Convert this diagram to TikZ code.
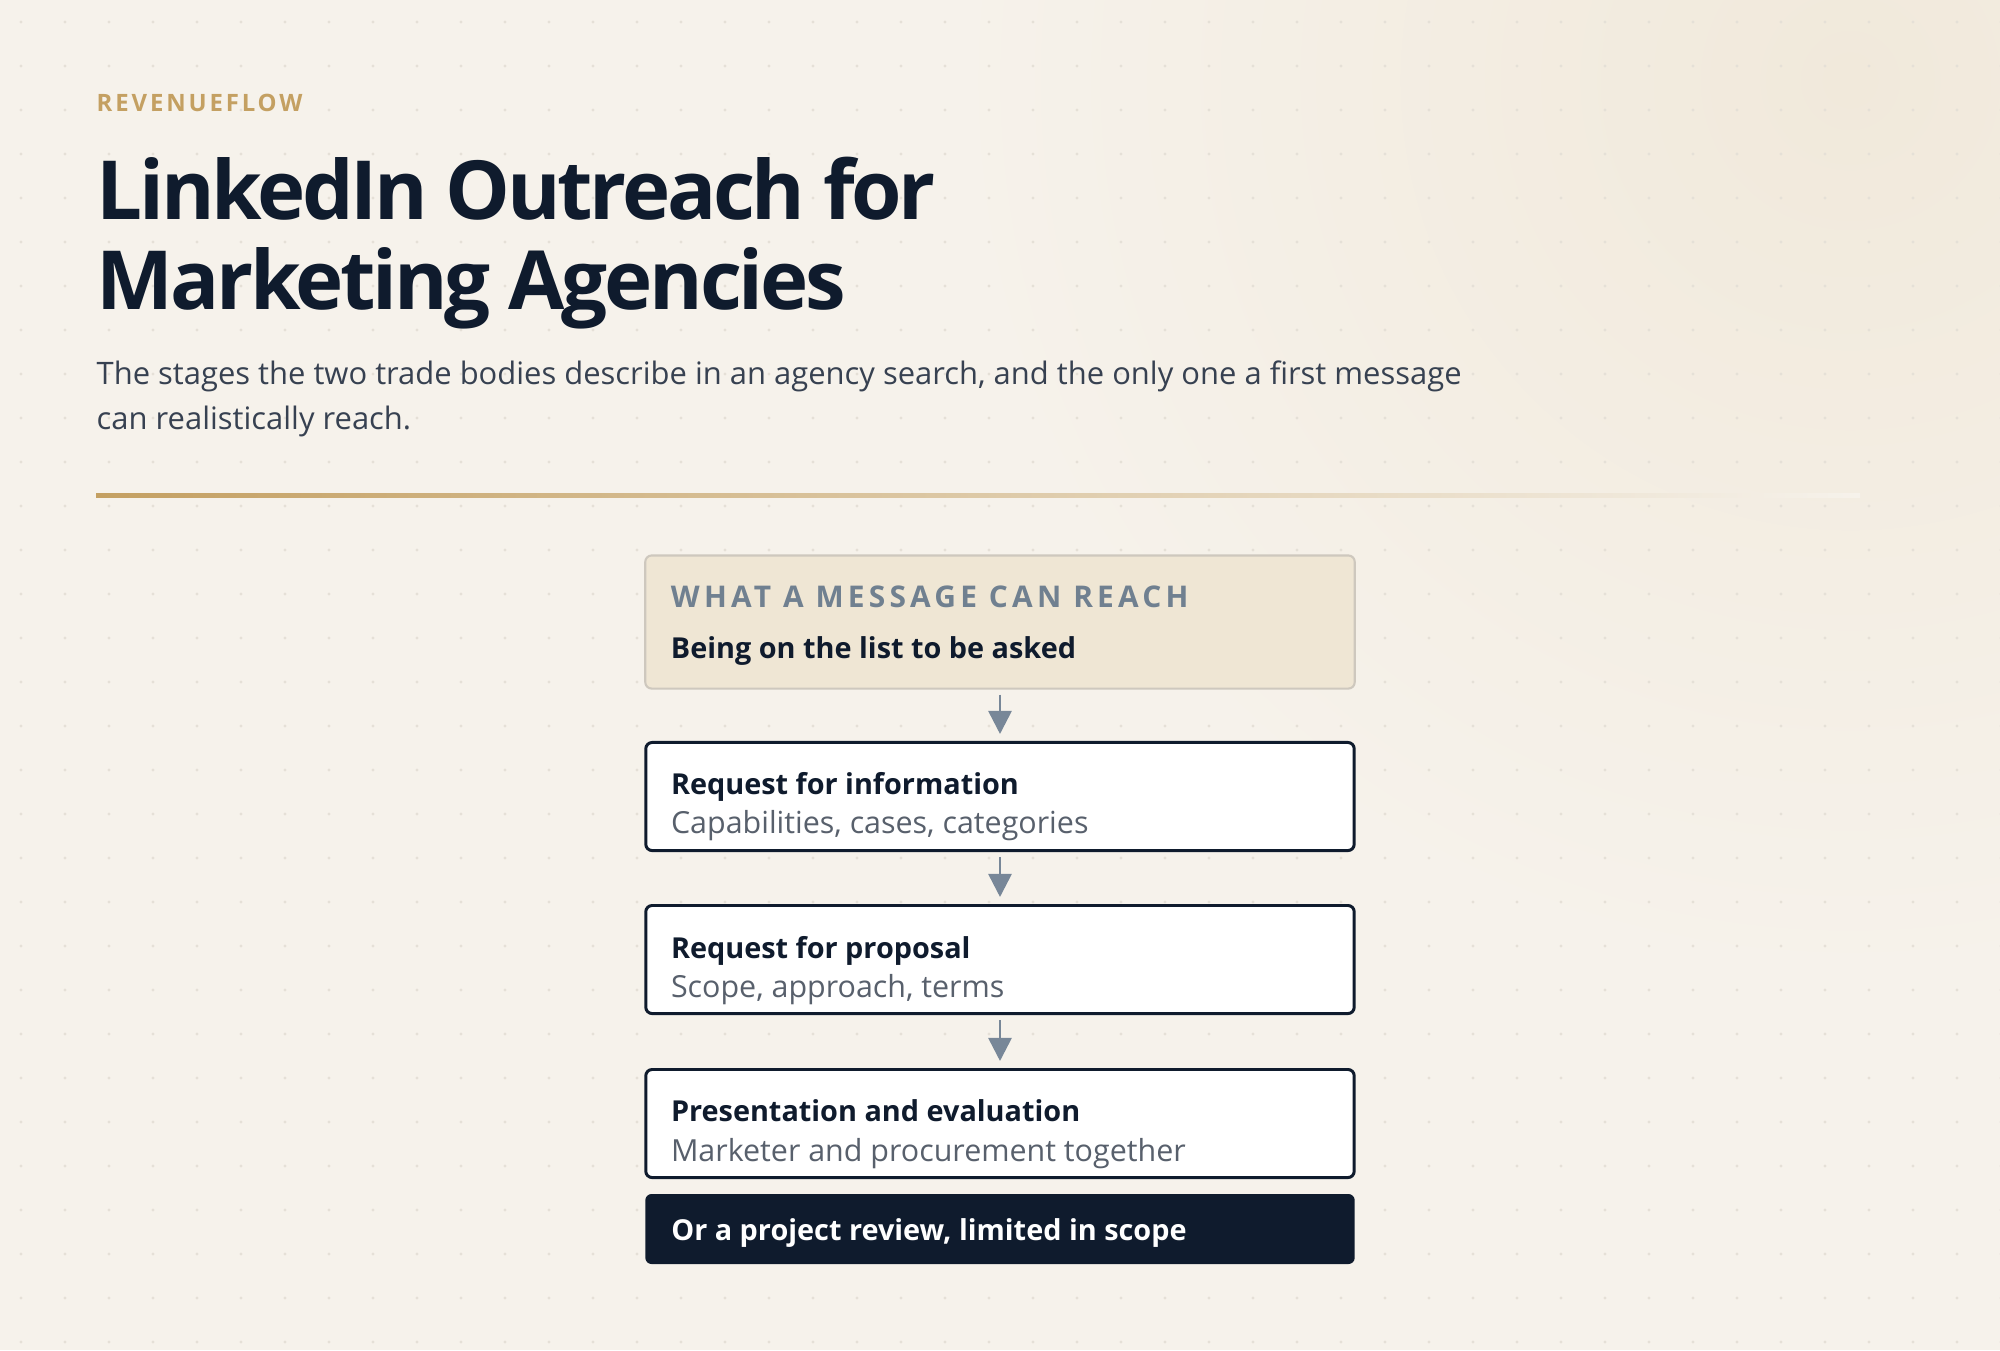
\documentclass[tikz,border=0pt]{standalone}
\usepackage{fontspec}
\setmainfont{Open Sans}
\usetikzlibrary{arrows.meta,calc}
\definecolor{pagebg}{RGB}{246,242,235}
\definecolor{glow}{RGB}{241,233,219}
\definecolor{dotc}{RGB}{229,224,215}
\definecolor{navy}{RGB}{15,27,45}
\definecolor{gold}{RGB}{196,160,98}
\definecolor{slate}{RGB}{55,65,81}
\definecolor{kickgray}{RGB}{112,128,144}
\definecolor{subgray}{RGB}{88,96,108}
\definecolor{sand}{RGB}{239,230,212}
\definecolor{sandline}{RGB}{206,200,190}
\definecolor{arrowgray}{RGB}{120,135,152}
\tikzset{
  txt/.style={inner sep=0pt,anchor=base west},
  brand/.style={txt,text=gold,font=\fontsize{6.8}{8}\selectfont\bfseries\addfontfeatures{LetterSpace=12}},
  headline/.style={txt,text=navy,font=\fontsize{23.2}{26}\selectfont\bfseries\addfontfeatures{LetterSpace=-4}},
  lede/.style={txt,text=slate,font=\fontsize{8.8}{10}\selectfont},
  kicker/.style={txt,text=kickgray,font=\fontsize{8.5}{10}\selectfont\bfseries\addfontfeatures{LetterSpace=14}},
  stagetitle/.style={txt,text=navy,font=\fontsize{8.2}{10}\selectfont\bfseries},
  stagesub/.style={txt,text=subgray,font=\fontsize{8.65}{10}\selectfont},
  reachbox/.style={draw=sandline,line width=0.6pt,fill=sand,rounded corners=1.8pt,minimum width=7.09cm,minimum height=1.33cm,inner sep=0pt},
  stagebox/.style={draw=navy,line width=0.85pt,fill=white,rounded corners=1.8pt,minimum width=7.08cm,minimum height=1.08cm,inner sep=0pt},
  endbox/.style={fill=navy,rounded corners=1.8pt,minimum width=7.09cm,minimum height=0.70cm,inner sep=0pt},
  flow/.style={draw=arrowgray,line width=0.75pt,-{Triangle[length=0.23cm,width=0.23cm]},shorten <=0.05cm,shorten >=0.07cm}
}
\begin{document}
\begin{tikzpicture}[x=0.01cm,y=-0.01cm]
\useasboundingbox (0,0) rectangle (2000,1350);
\fill[pagebg] (0,0) rectangle (2000,1350);
\shade[inner color=glow,outer color=pagebg] (1850,80) circle (900);
\fill[pagebg,opacity=0.5] (0,0) rectangle (1000,1350);
\foreach \i in {0,...,45}
  \foreach \j in {0,...,30}
    \fill[dotc] (21+44*\i,22+44*\j) circle (1.6);
\shade[left color=gold,right color=pagebg] (96,493) rectangle (1860,497);

\node[brand] (brand) at (96,111) {REVENUEFLOW};
\node[headline] (title1) at (96,219) {LinkedIn Outreach for};
\node[headline] (title2) at (96,309) {Marketing Agencies};
\node[lede] (lede1) at (96,384) {The stages the two trade bodies describe in an agency search, and the only one a first message};
\node[lede] (lede2) at (96,429) {can realistically reach.};

\node[reachbox] (reach) at (1000,622) {};
\node[stagebox] (rfi) at (1000,796.5) {};
\node[stagebox] (rfp) at (1000,959.5) {};
\node[stagebox] (pitch) at (1000,1123.5) {};
\node[endbox] (review) at (1000,1229) {};

\node[kicker] (reach-k) at ($(reach.north west)+(26,53)$) {WHAT A MESSAGE CAN REACH};
\node[stagetitle] (reach-t) at ($(reach.north west)+(26,104)$) {Being on the list to be asked};
\node[stagetitle] (rfi-t) at ($(rfi.north west)+(26,54)$) {Request for information};
\node[stagesub] (rfi-s) at ($(rfi.north west)+(26,93)$) {Capabilities, cases, categories};
\node[stagetitle] (rfp-t) at ($(rfp.north west)+(26,54)$) {Request for proposal};
\node[stagesub] (rfp-s) at ($(rfp.north west)+(26,93)$) {Scope, approach, terms};
\node[stagetitle] (pitch-t) at ($(pitch.north west)+(26,53)$) {Presentation and evaluation};
\node[stagesub] (pitch-s) at ($(pitch.north west)+(26,93)$) {Marketer and procurement together};
\node[stagetitle,text=white] (review-t) at ($(review.north west)+(26,47)$) {Or a project review, limited in scope};

\draw[flow] (reach) -- (rfi);
\draw[flow] (rfi) -- (rfp);
\draw[flow] (rfp) -- (pitch);
\end{tikzpicture}
\end{document}
